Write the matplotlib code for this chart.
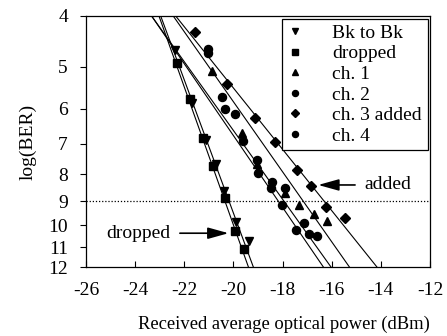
import numpy as np
import matplotlib
matplotlib.use("Agg")
import matplotlib.pyplot as plt
from matplotlib.ticker import FixedLocator, FixedFormatter, NullLocator

plt.rcParams['font.family'] = ['Liberation Serif', 'DejaVu Serif']

# measured points: received power (dBm) vs -log(BER)
bk_x = [-22.38, -21.67, -21.13, -20.72, -20.37, -19.91, -19.37]
bk_y = [4.64, 5.85, 6.88, 7.66, 8.59, 9.86, 10.69]
drop_x = [-22.28, -21.77, -21.23, -20.82, -20.34, -19.94, -19.57]
drop_y = [4.92, 5.76, 6.83, 7.70, 8.88, 10.23, 11.10]
ch1_x = [-20.88, -19.64, -19.04, -17.90, -17.32, -16.72, -16.21]
ch1_y = [5.09, 6.67, 7.66, 8.67, 9.15, 9.51, 9.80]
ch2_x = [-21.02, -20.34, -19.62, -19.02, -18.48, -18.01, -17.45]
ch2_y = [4.71, 6.00, 6.91, 7.94, 8.49, 9.14, 10.20]
ch3_x = [-21.56, -20.27, -19.12, -18.31, -17.43, -16.84, -16.23, -15.46]
ch3_y = [4.29, 5.39, 6.26, 6.95, 7.85, 8.41, 9.21, 9.69]
ch4_x = [-21.02, -20.48, -19.92, -19.03, -18.43, -17.91, -17.13, -16.91, -16.58]
ch4_y = [4.62, 5.69, 6.15, 7.51, 8.29, 8.50, 9.91, 10.38, 10.50]

# fitted lines: power at log(BER)=4 and at log(BER)=12
fit_y = [4, 12]
fit_bk = [-22.96, -19.19]
fit_drop = [-23.03, -19.39]
fit_ch1 = [-22.45, -15.28]
fit_ch2 = [-23.33, -16.34]
fit_ch3 = [-22.35, -14.16]
fit_ch4 = [-23.33, -16.03]

yticks = [4, 5, 6, 7, 8, 9, 10, 11, 12]
xticks = [-26, -24, -22, -20, -18, -16, -14, -12]

fs = 14

fig = plt.figure(figsize=(4.47, 3.36), dpi=100)
ax = fig.add_axes([86 / 447, 1 - 267 / 336, 344 / 447, 251 / 336])

series = [
    (bk_x, bk_y, 'v', 6, 'Bk to Bk'),
    (drop_x, drop_y, 's', 5.2, 'dropped'),
    (ch1_x, ch1_y, '^', 6, 'ch. 1'),
    (ch2_x, ch2_y, 'o', 5.8, 'ch. 2'),
    (ch3_x, ch3_y, 'D', 5.2, 'ch. 3 added'),
    (ch4_x, ch4_y, 'o', 5.8, 'ch. 4'),
]
for xs, ys, m, ms, lab in series:
    ax.plot(xs, ys, linestyle='none', marker=m, ms=ms, color='k', label=lab)

for f in [fit_bk, fit_drop, fit_ch1, fit_ch2, fit_ch3, fit_ch4]:
    ax.plot(f, fit_y, color='k', lw=0.8)

ax.axhline(9, color='k', lw=0.9, linestyle=(0, (1, 1.5)))

ax.set_yscale('log')
ax.set_ylim(12, 4)
ax.set_xlim(-26, -12)
ax.yaxis.set_major_locator(FixedLocator(yticks))
ax.yaxis.set_major_formatter(FixedFormatter([str(t) for t in yticks]))
ax.yaxis.set_minor_locator(NullLocator())
ax.set_xticks(xticks)
ax.set_xticklabels([str(t) for t in xticks])

ax.tick_params(axis='x', direction='in', length=4, width=0.8, pad=11, labelsize=fs)
ax.tick_params(axis='y', direction='out', length=4, width=0.8, pad=9, labelsize=fs)
for s in ax.spines.values():
    s.set_linewidth(0.9)

ax.set_xlabel('Received average optical power (dBm)', fontsize=13.4, labelpad=9)
ax.xaxis.set_label_coords(0.576, -0.195)
ax.set_ylabel('log(BER)', fontsize=fs, labelpad=8)

arrow = dict(arrowstyle='-|>,head_length=0.9,head_width=0.25', color='k', lw=1.2,
             shrinkA=5, shrinkB=0)
ax.annotate('dropped', xy=(-20.2, 10.35), xytext=(-23.88, 10.35), fontsize=fs,
            ha='center', va='center', arrowprops=arrow)
ax.annotate('added', xy=(-16.55, 8.38), xytext=(-13.7, 8.38), fontsize=fs,
            ha='center', va='center', arrowprops=arrow)

leg = ax.legend(loc='upper right', bbox_to_anchor=(0.993, 0.99), borderaxespad=0,
                fontsize=fs, labelspacing=0.15, handlelength=0.8, handletextpad=1.5,
                borderpad=0.3, markerscale=0.75, fancybox=False, edgecolor='k',
                framealpha=1)
leg.get_frame().set_linewidth(0.9)

fig.savefig('out.png', dpi=100)
